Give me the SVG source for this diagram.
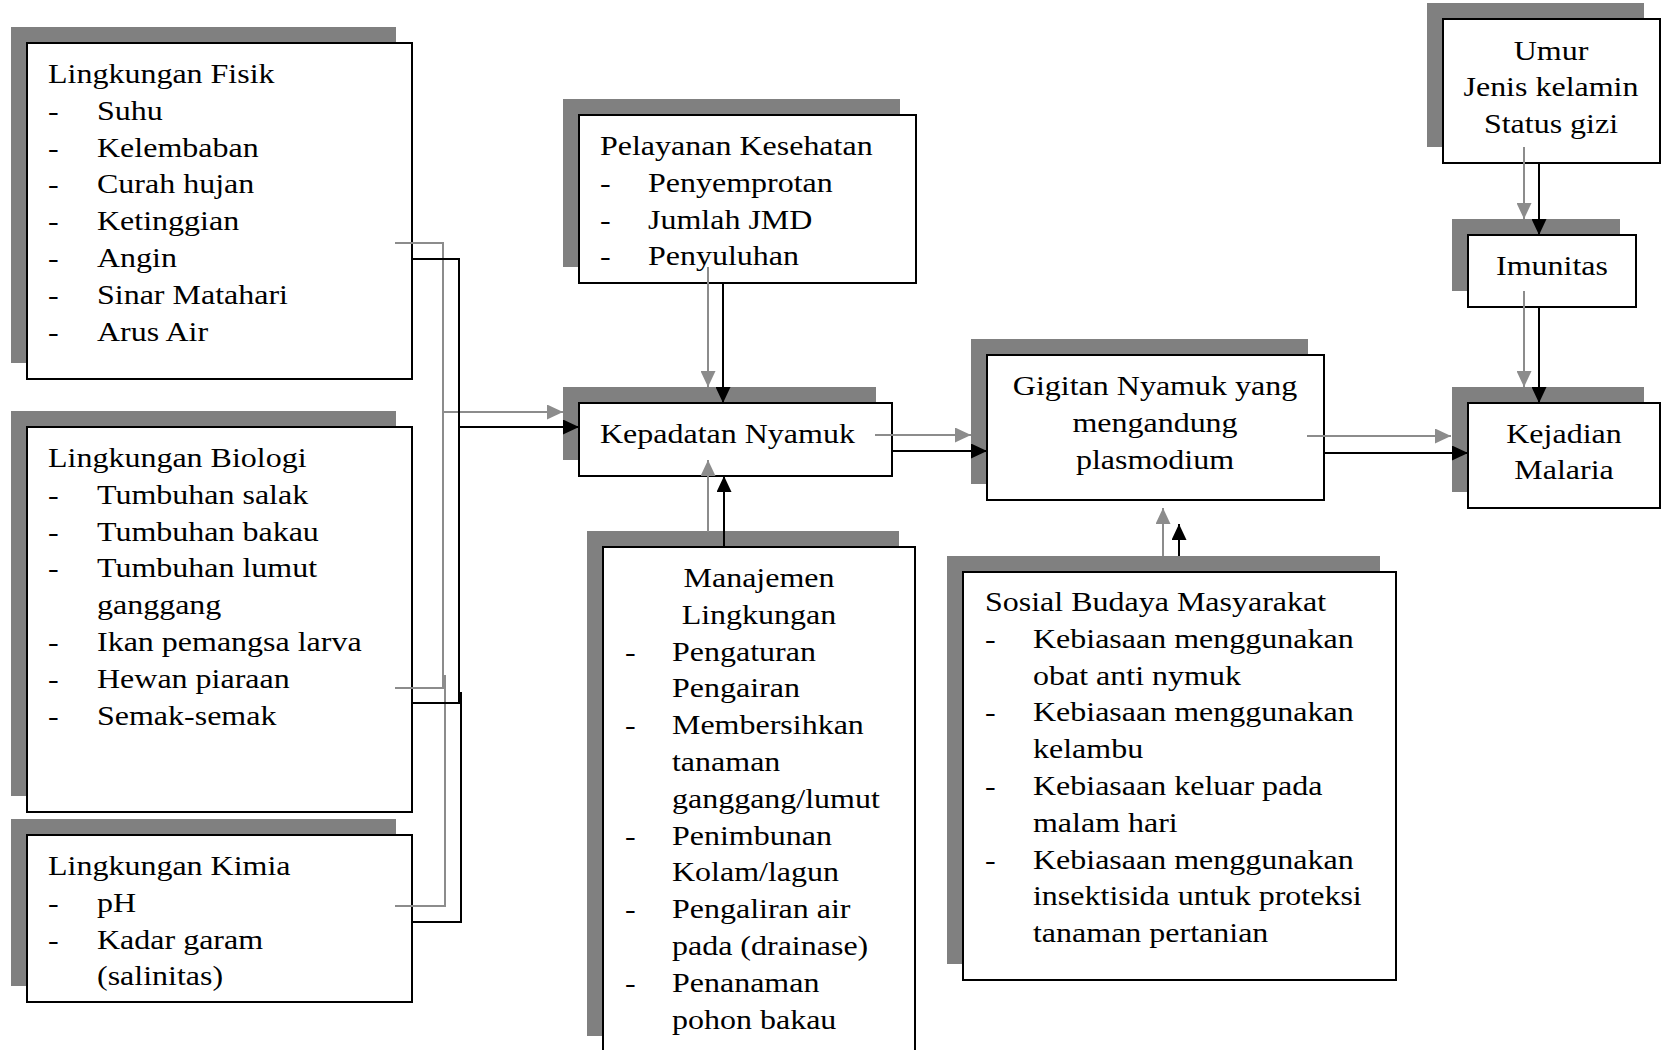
<svg xmlns="http://www.w3.org/2000/svg" width="1661" height="1050" viewBox="0 0 1661 1050">
<style>
.sh{fill:#808080;stroke:none}
.bx{fill:#fff;stroke:#000;stroke-width:2}
.t{font-family:"Liberation Serif","Times New Roman",serif;font-size:32px;fill:#000}
.c{text-anchor:middle}
.k{fill:none;stroke:#000;stroke-width:2}
.g{fill:none;stroke:#8c8c8c;stroke-width:2}
.ka{marker-end:url(#ak)}
.ga{marker-end:url(#ag)}
</style>
<defs>
<marker id="ak" markerUnits="userSpaceOnUse" markerWidth="16" markerHeight="15" refX="16" refY="7.5" orient="auto"><path d="M0,0 L16,7.5 L0,15 z" fill="#000"/></marker>
<marker id="ag" markerUnits="userSpaceOnUse" markerWidth="16" markerHeight="15" refX="16" refY="7.5" orient="auto"><path d="M0,0 L16,7.5 L0,15 z" fill="#8c8c8c"/></marker>
</defs>
<rect width="1661" height="1050" fill="#fff"/>

<g id="fisik">
<rect class="sh" x="11" y="27" width="385" height="336"/>
<rect class="bx" x="27" y="43" width="385" height="336"/>
<g class="t" transform="translate(0,83) scale(1,0.865)">
<text x="48" y="0">Lingkungan Fisik</text>
<text x="48" y="42.54">-</text><text x="97" y="42.54">Suhu</text>
<text x="48" y="85.08">-</text><text x="97" y="85.08">Kelembaban</text>
<text x="48" y="127.62">-</text><text x="97" y="127.62">Curah hujan</text>
<text x="48" y="170.16">-</text><text x="97" y="170.16">Ketinggian</text>
<text x="48" y="212.7">-</text><text x="97" y="212.7">Angin</text>
<text x="48" y="255.24">-</text><text x="97" y="255.24">Sinar Matahari</text>
<text x="48" y="297.78">-</text><text x="97" y="297.78">Arus Air</text>
</g>
</g>

<g id="biologi">
<rect class="sh" x="11" y="411" width="385" height="385"/>
<rect class="bx" x="27" y="427" width="385" height="385"/>
<g class="t" transform="translate(0,467) scale(1,0.865)">
<text x="48" y="0">Lingkungan Biologi</text>
<text x="48" y="42.54">-</text><text x="97" y="42.54">Tumbuhan salak</text>
<text x="48" y="85.08">-</text><text x="97" y="85.08">Tumbuhan bakau</text>
<text x="48" y="127.62">-</text><text x="97" y="127.62">Tumbuhan lumut</text>
<text x="97" y="170.16">ganggang</text>
<text x="48" y="212.7">-</text><text x="97" y="212.7">Ikan pemangsa larva</text>
<text x="48" y="255.24">-</text><text x="97" y="255.24">Hewan piaraan</text>
<text x="48" y="297.78">-</text><text x="97" y="297.78">Semak-semak</text>
</g>
</g>

<g id="kimia">
<rect class="sh" x="11" y="819" width="385" height="167"/>
<rect class="bx" x="27" y="835" width="385" height="167"/>
<g class="t" transform="translate(0,875) scale(1,0.865)">
<text x="48" y="0">Lingkungan Kimia</text>
<text x="48" y="42.54">-</text><text x="97" y="42.54">pH</text>
<text x="48" y="85.08">-</text><text x="97" y="85.08">Kadar garam</text>
<text x="97" y="127.62">(salinitas)</text>
</g>
</g>

<g id="pelayanan">
<rect class="sh" x="563" y="99" width="337" height="168"/>
<rect class="bx" x="579" y="115" width="337" height="168"/>
<g class="t" transform="translate(0,155) scale(1,0.865)">
<text x="600" y="0">Pelayanan Kesehatan</text>
<text x="600" y="42.54">-</text><text x="648" y="42.54">Penyemprotan</text>
<text x="600" y="85.08">-</text><text x="648" y="85.08">Jumlah JMD</text>
<text x="600" y="127.62">-</text><text x="648" y="127.62">Penyuluhan</text>
</g>
</g>

<g id="kepadatan">
<rect class="sh" x="563" y="387" width="313" height="73"/>
<rect class="bx" x="579" y="403" width="313" height="73"/>
<g class="t" transform="translate(0,443) scale(1,0.865)">
<text x="600" y="0">Kepadatan Nyamuk</text>
</g>
</g>

<g id="manajemen">
<rect class="sh" x="587" y="531" width="312" height="505"/>
<rect class="bx" x="603" y="547" width="312" height="510"/>
<g class="t" transform="translate(0,587) scale(1,0.865)">
<text class="c" x="759" y="0">Manajemen</text>
<text class="c" x="759" y="42.54">Lingkungan</text>
<text x="625" y="85.08">-</text><text x="672" y="85.08">Pengaturan</text>
<text x="672" y="127.62">Pengairan</text>
<text x="625" y="170.16">-</text><text x="672" y="170.16">Membersihkan</text>
<text x="672" y="212.7">tanaman</text>
<text x="672" y="255.24">ganggang/lumut</text>
<text x="625" y="297.78">-</text><text x="672" y="297.78">Penimbunan</text>
<text x="672" y="340.32">Kolam/lagun</text>
<text x="625" y="382.86">-</text><text x="672" y="382.86">Pengaliran air</text>
<text x="672" y="425.4">pada (drainase)</text>
<text x="625" y="467.94">-</text><text x="672" y="467.94">Penanaman</text>
<text x="672" y="510.48">pohon bakau</text>
</g>
</g>

<g id="gigitan">
<rect class="sh" x="971" y="339" width="337" height="145"/>
<rect class="bx" x="987" y="355" width="337" height="145"/>
<g class="t c" transform="translate(0,395) scale(1,0.865)">
<text x="1155" y="0">Gigitan Nyamuk yang</text>
<text x="1155" y="42.54">mengandung</text>
<text x="1155" y="85.08">plasmodium</text>
</g>
</g>

<g id="sosial">
<rect class="sh" x="947" y="556" width="433" height="408"/>
<rect class="bx" x="963" y="572" width="433" height="408"/>
<g class="t" transform="translate(0,611) scale(1,0.865)">
<text x="985" y="0">Sosial Budaya Masyarakat</text>
<text x="985" y="42.54">-</text><text x="1033" y="42.54">Kebiasaan menggunakan</text>
<text x="1033" y="85.08">obat anti nymuk</text>
<text x="985" y="127.62">-</text><text x="1033" y="127.62">Kebiasaan menggunakan</text>
<text x="1033" y="170.16">kelambu</text>
<text x="985" y="212.7">-</text><text x="1033" y="212.7">Kebiasaan keluar pada</text>
<text x="1033" y="255.24">malam hari</text>
<text x="985" y="297.78">-</text><text x="1033" y="297.78">Kebiasaan menggunakan</text>
<text x="1033" y="340.32">insektisida untuk proteksi</text>
<text x="1033" y="382.86">tanaman pertanian</text>
</g>
</g>

<g id="umur">
<rect class="sh" x="1427" y="3" width="217" height="144"/>
<rect class="bx" x="1443" y="19" width="217" height="144"/>
<g class="t c" transform="translate(0,60) scale(1,0.865)">
<text x="1551" y="0">Umur</text>
<text x="1551" y="42">Jenis kelamin</text>
<text x="1551" y="84">Status gizi</text>
</g>
</g>

<g id="imunitas">
<rect class="sh" x="1452" y="219" width="168" height="72"/>
<rect class="bx" x="1468" y="235" width="168" height="72"/>
<g class="t c" transform="translate(0,275) scale(1,0.865)">
<text x="1552" y="0">Imunitas</text>
</g>
</g>

<g id="kejadian">
<rect class="sh" x="1452" y="387" width="192" height="105"/>
<rect class="bx" x="1468" y="403" width="192" height="105"/>
<g class="t c" transform="translate(0,443) scale(1,0.865)">
<text x="1564" y="0">Kejadian</text>
<text x="1564" y="42">Malaria</text>
</g>
</g>

<g id="connectors">
<polyline class="g" points="395,243 443,243 443,688 395,688"/>
<polyline class="g" points="395,906 445,906 445,675"/>
<line class="g ga" x1="443" y1="412" x2="563" y2="412"/>
<polyline class="k" points="412,259 459,259 459,703 412,703"/>
<polyline class="k" points="412,922 461,922 461,692"/>
<line class="k ka" x1="459" y1="427" x2="579" y2="427"/>

<line class="g ga" x1="708" y1="267" x2="708" y2="387"/>
<line class="k ka" x1="723" y1="283" x2="723" y2="403"/>

<line class="g ga" x1="708" y1="532" x2="708" y2="460"/>
<line class="k ka" x1="724" y1="547" x2="724" y2="476"/>

<line class="g ga" x1="875" y1="435" x2="971" y2="435"/>
<line class="k ka" x1="892" y1="451" x2="987" y2="451"/>

<line class="g ga" x1="1163" y1="556" x2="1163" y2="508"/>
<line class="k ka" x1="1179" y1="556" x2="1179" y2="524"/>

<line class="g ga" x1="1307" y1="436" x2="1451" y2="436"/>
<line class="k ka" x1="1324" y1="453" x2="1468" y2="453"/>

<line class="g ga" x1="1524" y1="147" x2="1524" y2="219"/>
<line class="k ka" x1="1539" y1="163" x2="1539" y2="235"/>

<line class="g ga" x1="1524" y1="291" x2="1524" y2="387"/>
<line class="k ka" x1="1539" y1="307" x2="1539" y2="403"/>
</g>
</svg>
